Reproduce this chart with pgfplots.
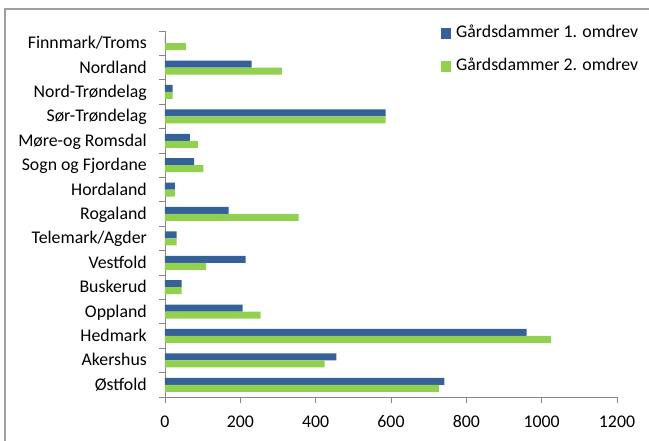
\documentclass[border=0pt]{standalone}
\usepackage{pgfplots}
\pgfplotsset{compat=1.18}
\usepackage{pgfplotstable}
\usepackage{fontspec}
\setmainfont{Carlito}
\definecolor{serA}{RGB}{53,97,152}
\definecolor{serB}{RGB}{146,208,80}
\definecolor{axgray}{RGB}{134,134,134}
\definecolor{bordergray}{RGB}{160,160,160}
\pgfplotstableread{
idx a b
0 742 728
1 455 424
2 960 1025
3 206 254
4 44 44
5 214 109
6 31 31
7 169 355
8 26 26
9 77 102
10 66 87
11 586 586
12 20 20
13 230 310
14 0 56
}\datatab
\begin{document}
\begin{tikzpicture}
\useasboundingbox (0pt,0pt) rectangle (649pt,441pt);
\draw[bordergray, line width=1.2pt] (5pt,-30pt) rectangle (690pt,432pt);
\begin{axis}[
  at={(165pt,44pt)}, anchor=south west,
  scale only axis, width=452pt, height=366pt,
  font=\fontsize{17.8}{21}\selectfont,
  /pgf/number format/assume math mode=true,
  /pgf/number format/1000 sep={},
  xbar, bar width=7pt,
  xmin=0, xmax=1200, ymin=-0.5, ymax=14.5,
  xtick={0,200,...,1200},
  ytick={-0.5,0.5,...,14.5},
  yticklabels={},
  extra y ticks={0,...,14},
  extra y tick labels={Østfold,Akershus,Hedmark,Oppland,Buskerud,Vestfold,Telemark/Agder,Rogaland,Hordaland,Sogn og Fjordane,Møre-og Romsdal,Sør-Trøndelag,Nord-Trøndelag,Nordland,Finnmark/Troms},
  extra y tick style={major tick length=0pt, yticklabel style={inner sep=0pt, anchor=base east, xshift=-18pt, yshift=-5.5pt}},
  axis x line*=bottom, axis y line*=left,
  axis line style={axgray, line width=0.9pt},
  tick align=outside,
  major tick length=6pt,
  tick style={axgray, line width=0.9pt},
  xticklabel style={inner sep=0pt, anchor=base, yshift=-25pt},
  scaled x ticks=false,
  legend style={at={(axis description cs:0.6106,1.016)}, anchor=north west, draw=none, fill=none, inner sep=0pt,
    nodes={inner sep=0pt, text height=12pt, text depth=4pt}, row sep=17.5pt},
  legend cell align=left,
  legend image code/.code={\fill[#1] (0pt,-5.5pt) rectangle (10pt,5.5pt);},
  every axis legend/.append style={/tikz/every odd column/.append style={column sep=5pt}},
]
\addplot[fill=serA, draw=none, bar shift=3.5pt] table[x=a, y=idx] {\datatab};
\addplot[fill=serB, draw=none, bar shift=-3.5pt] table[x=b, y=idx] {\datatab};
\legend{Gårdsdammer 1. omdrev, Gårdsdammer 2. omdrev}
\end{axis}
\end{tikzpicture}
\end{document}
